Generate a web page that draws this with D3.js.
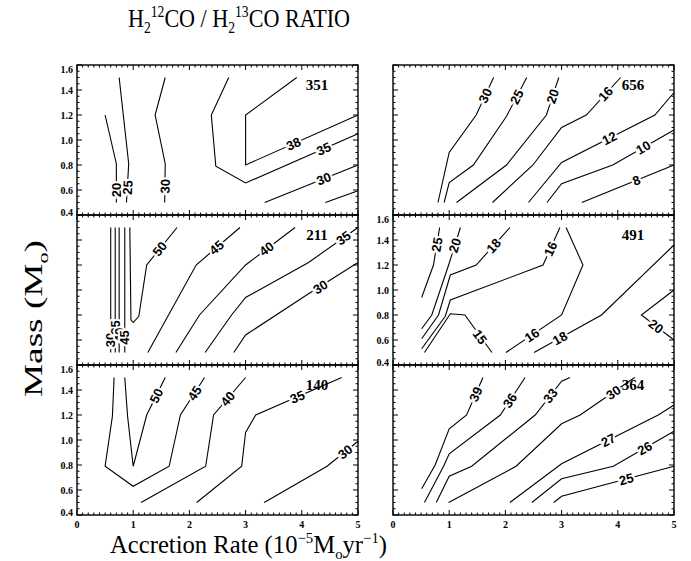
<!DOCTYPE html>
<html>
<head>
<meta charset="utf-8">
<script src="https://cdn.jsdelivr.net/npm/d3@7"></script>
<style>
  body { margin: 0; background: #fff; }
  svg { display: block; }
</style>
</head>
<body>
<div id="chart"></div>
<script>
// axis ticks
const xTicks = [0, 1, 2, 3, 4, 5];
const yTicks = [0.4, 0.6, 0.8, 1.0, 1.2, 1.4, 1.6];
const panelTags = ["351", "656", "211", "491", "140", "364"];

// contour lines: [accretion rate, mass]
const contours351 = [
  { level: "20", pts: [[0.5, 1.2], [0.70, 0.81], [0.70, 0.5]], at: [0.70, 0.60] },
  { level: "25", pts: [[0.75, 1.5], [0.92, 0.81], [0.88, 0.5]], at: [0.90, 0.62] },
  { level: "30", pts: [[1.57, 1.5], [1.39, 1.2], [1.57, 0.81], [1.56, 0.5]], at: [1.565, 0.63] },
  { level: "38", pts: [[3.91, 1.5], [3.0, 1.2], [3.0, 0.80], [5.0, 1.2]], at: [3.85, 0.97] },
  { level: "35", pts: [[2.70, 1.5], [2.39, 1.2], [2.47, 0.79], [3.0, 0.656], [5.0, 1.05]], at: [4.39, 0.93] },
  { level: "30", pts: [[3.34, 0.5], [5.0, 0.80]], at: [4.39, 0.69] },
  { level: "", pts: [[4.42, 0.5], [5.0, 0.594]] }
];

const contours656 = [
  { level: "30", pts: [[0.80, 0.5], [1.0, 0.90], [1.48, 1.2], [1.79, 1.5]], at: [1.64, 1.355] },
  { level: "25", pts: [[0.91, 0.5], [1.0, 0.66], [1.43, 0.80], [2.02, 1.19], [2.38, 1.5]], at: [2.2, 1.345] },
  { level: "20", pts: [[1.13, 0.5], [2.02, 0.80], [2.73, 1.2], [2.95, 1.5]], at: [2.84, 1.35] },
  { level: "16", pts: [[1.77, 0.5], [2.49, 0.80], [3.0, 1.10], [3.44, 1.2], [4.05, 1.5]], at: [3.78, 1.37] },
  { level: "12", pts: [[2.41, 0.5], [3.0, 0.82], [4.66, 1.2], [5.0, 1.38]], at: [3.85, 1.015] },
  { level: "10", pts: [[2.74, 0.5], [3.0, 0.65], [3.91, 0.80], [5.0, 1.08]], at: [4.45, 0.94] },
  { level: "8", pts: [[3.36, 0.5], [5.0, 0.80]], at: [4.33, 0.677] }
];

const contours211 = [
  { level: "30", pts: [[0.60, 1.5], [0.60, 0.5]], at: [0.60, 0.60] },
  { level: "35", pts: [[0.68, 1.5], [0.68, 0.5]], at: [0.68, 0.70] },
  { level: "40", pts: [[0.75, 1.5], [0.75, 0.5]], at: [0.75, 0.64] },
  { level: "45", pts: [[0.85, 1.5], [0.85, 0.5]], at: [0.85, 0.62] },
  { level: "50", pts: [[0.94, 1.5], [0.96, 0.76], [1.0, 0.74], [1.1, 0.79], [1.24, 1.2], [1.78, 1.5]], at: [1.47, 1.33] },
  { level: "45", pts: [[1.26, 0.5], [2.12, 1.2], [2.90, 1.5]], at: [2.48, 1.34] },
  { level: "40", pts: [[1.76, 0.5], [2.18, 0.80], [3.0, 1.2], [3.88, 1.5]], at: [3.37, 1.33] },
  { level: "35", pts: [[2.28, 0.5], [2.75, 0.80], [3.0, 0.94], [4.12, 1.22], [5.0, 1.5]], at: [4.74, 1.417] },
  { level: "30", pts: [[2.79, 0.5], [3.0, 0.64], [4.12, 0.97], [5.0, 1.22]], at: [4.33, 1.025] }
];

const contours491 = [
  { level: "25", pts: [[0.51, 0.94], [0.72, 1.2], [0.83, 1.5]], at: [0.78, 1.364] },
  { level: "20", pts: [[0.51, 0.69], [0.69, 0.80], [0.99, 1.2], [1.2, 1.5]], at: [1.1, 1.357] },
  { level: "18", pts: [[0.51, 0.61], [0.81, 0.80], [1.02, 1.12], [1.48, 1.2], [2.08, 1.5]], at: [1.79, 1.355] },
  { level: "16", pts: [[0.51, 0.53], [0.93, 0.79], [1.02, 0.92], [2.67, 1.2], [2.97, 1.5]], at: [2.8, 1.33] },
  { level: "15", pts: [[0.56, 0.5], [1.02, 0.81], [1.28, 0.80], [1.76, 0.5]], at: [1.55, 0.625] },
  { level: "16", pts: [[2.01, 0.5], [3.0, 0.80], [3.38, 1.2], [3.08, 1.5]], at: [2.47, 0.64] },
  { level: "18", pts: [[2.51, 0.5], [3.71, 0.80], [5.0, 1.36]], at: [2.97, 0.615] },
  { level: "20", pts: [[5.0, 1.0], [4.42, 0.80], [5.0, 0.60]], at: [4.68, 0.71] }
];

const contours140 = [
  { level: "45", pts: [[0.66, 1.5], [0.63, 1.19], [0.50, 0.79], [1.0, 0.63], [1.64, 0.79], [1.84, 1.2], [2.27, 1.5]], at: [2.09, 1.374] },
  { level: "50", pts: [[0.85, 1.5], [0.90, 1.19], [1.0, 0.79], [1.24, 1.2], [1.57, 1.5]], at: [1.41, 1.355] },
  { level: "40", pts: [[1.14, 0.5], [2.29, 0.79], [2.43, 1.2], [3.0, 1.5]], at: [2.68, 1.33] },
  { level: "35", pts: [[2.13, 0.5], [2.93, 0.79], [3.0, 1.06], [3.18, 1.2], [4.71, 1.5]], at: [3.92, 1.345] },
  { level: "30", pts: [[3.33, 0.5], [4.45, 0.79], [5.0, 0.99]], at: [4.77, 0.906] }
];

const contours364 = [
  { level: "39", pts: [[0.51, 0.61], [0.75, 0.80], [1.0, 1.09], [1.31, 1.2], [1.60, 1.5]], at: [1.47, 1.366] },
  { level: "36", pts: [[0.56, 0.5], [0.90, 0.79], [1.0, 0.89], [1.91, 1.2], [2.35, 1.5]], at: [2.08, 1.316] },
  { level: "33", pts: [[0.77, 0.5], [1.0, 0.71], [1.40, 0.79], [2.53, 1.2], [3.0, 1.47], [3.15, 1.5]], at: [2.8, 1.355] },
  { level: "30", pts: [[0.99, 0.5], [2.19, 0.79], [3.0, 1.13], [3.33, 1.2], [4.3, 1.5]], at: [3.92, 1.38] },
  { level: "27", pts: [[2.08, 0.5], [3.0, 0.81], [4.72, 1.2], [5.0, 1.28]], at: [3.83, 1.0] },
  { level: "26", pts: [[2.47, 0.5], [3.0, 0.69], [3.92, 0.79], [5.0, 1.07]], at: [4.48, 0.935] },
  { level: "25", pts: [[2.86, 0.5], [3.0, 0.55], [5.0, 0.79]], at: [4.15, 0.688] }
];

const allContours = [contours351, contours656, contours211, contours491, contours140, contours364];

const width = 691;
const height = 561;
const colLeft = [77, 393];
const colWidth = 281;
const rowTop = [65, 215, 365];
const rowHeight = 150;

const svg = d3.select("#chart")
  .append("svg")
  .attr("width", width)
  .attr("height", height);

const serif = "'Liberation Serif', 'DejaVu Serif', serif";
const labelFont = "'Liberation Sans', 'DejaVu Sans', sans-serif";

// find angle of the segment the label sits on
function labelAngle(pts, at, x, y) {
  let best = 0, bestD = Infinity;
  for (let i = 0; i < pts.length - 1; i++) {
    const [x1, y1] = pts[i], [x2, y2] = pts[i + 1];
    const dx = x2 - x1, dy = y2 - y1;
    let t = ((at[0] - x1) * dx + (at[1] - y1) * dy) / (dx * dx + dy * dy || 1);
    t = Math.max(0, Math.min(1, t));
    const d = Math.hypot(x1 + t * dx - at[0], (y1 + t * dy - at[1]) * 4);
    if (d < bestD) { bestD = d; best = i; }
  }
  const p1 = pts[best], p2 = pts[best + 1];
  let a = Math.atan2(y(p2[1]) - y(p1[1]), x(p2[0]) - x(p1[0])) * 180 / Math.PI;
  if (a > 90) a -= 180;
  if (a <= -90) a += 180;
  if (Math.abs(Math.abs(a) - 90) < 0.5) a = -90;
  return a;
}

allContours.forEach((contours, i) => {
  const col = i % 2, row = Math.floor(i / 2);
  const x0 = colLeft[col], y0 = rowTop[row];
  const x = d3.scaleLinear().domain([0, 5]).range([x0, x0 + colWidth]);
  const y = d3.scaleLinear().domain([0.4, 1.6]).range([y0 + rowHeight, y0]);
  const g = svg.append("g");

  const line = d3.line().x(d => x(d[0])).y(d => y(d[1]));

  g.selectAll("path.contour")
    .data(contours)
    .enter().append("path")
    .attr("class", "contour")
    .attr("d", d => line(d.pts))
    .attr("fill", "none")
    .attr("stroke", "#000")
    .attr("stroke-width", 1.1);

  g.selectAll("text.clabel")
    .data(contours.filter(d => d.at))
    .enter().append("text")
    .attr("class", "clabel")
    .attr("transform", d => `translate(${x(d.at[0])},${y(d.at[1])}) rotate(${labelAngle(d.pts, d.at, x, y)})`)
    .attr("text-anchor", "middle")
    .attr("dy", "0.36em")
    .attr("font-family", labelFont)
    .attr("font-weight", "bold")
    .attr("font-size", 13)
    .attr("fill", "#000")
    .attr("stroke", "#fff")
    .attr("stroke-width", 4)
    .attr("paint-order", "stroke")
    .text(d => d.level);

  // panel tag
  g.append("text")
    .attr("x", x(4.27))
    .attr("y", y(1.44))
    .attr("dy", "0.35em")
    .attr("text-anchor", "middle")
    .attr("font-family", serif)
    .attr("font-weight", "bold")
    .attr("font-size", 15)
    .text(panelTags[i]);

  // frame
  g.append("rect")
    .attr("x", x0).attr("y", y0)
    .attr("width", colWidth).attr("height", rowHeight)
    .attr("fill", "none")
    .attr("stroke", "#000")
    .attr("stroke-width", 1.4);

  // ticks, inward on all sides
  const xMinor = d3.range(0, 50.5, 1).map(v => v / 10);
  const yMinor = d3.range(8, 32.5, 1).map(v => v / 20);
  const tickPath = [];
  xMinor.forEach(v => {
    const len = Math.abs(v - Math.round(v)) < 1e-6 ? 5 : 2.5;
    const px = x(v);
    tickPath.push(`M${px},${y0 + rowHeight}v${-len}`, `M${px},${y0}v${len}`);
  });
  yMinor.forEach(v => {
    const len = Math.abs(v * 5 - Math.round(v * 5)) < 1e-6 ? 5 : 2.5;
    const py = y(v);
    tickPath.push(`M${x0},${py}h${len}`, `M${x0 + colWidth},${py}h${-len}`);
  });
  g.append("path")
    .attr("d", tickPath.join(""))
    .attr("stroke", "#000")
    .attr("stroke-width", 1)
    .attr("fill", "none");

  // y tick labels on outer-left panels and middle right
  if (col === 0 && row !== 1 || (col === 1 && row === 1)) {
    g.selectAll("text.ytl")
      .data(yTicks)
      .enter().append("text")
      .attr("class", "ytl")
      .attr("x", x0 - 4)
      .attr("y", d => y(d) + (d === 1.6 ? 4 : d === 0.4 ? -3 : 0))
      .attr("dy", "0.35em")
      .attr("text-anchor", "end")
      .attr("font-family", serif)
      .attr("font-weight", "bold")
      .attr("font-size", 10)
      .text(d => d3.format(".1f")(d));
  }

  // x tick labels on the bottom row
  if (row === 2) {
    g.selectAll("text.xtl")
      .data(xTicks)
      .enter().append("text")
      .attr("class", "xtl")
      .attr("x", d => x(d))
      .attr("y", y0 + rowHeight + 13)
      .attr("text-anchor", "middle")
      .attr("font-family", serif)
      .attr("font-weight", "bold")
      .attr("font-size", 10)
      .text(d => d);
  }
});

// title
const title = svg.append("text")
  .attr("x", 128)
  .attr("y", 27)
  .attr("font-family", serif)
  .attr("font-size", 26)
  .attr("textLength", 222)
  .attr("lengthAdjust", "spacingAndGlyphs");
title.append("tspan").text("H");
title.append("tspan").attr("font-size", 16).attr("dy", 6).text("2");
title.append("tspan").attr("font-size", 16).attr("dy", -16).text("12");
title.append("tspan").attr("dy", 10).text("CO / H");
title.append("tspan").attr("font-size", 16).attr("dy", 6).text("2");
title.append("tspan").attr("font-size", 16).attr("dy", -16).text("13");
title.append("tspan").attr("dy", 10).text("CO RATIO");

// x-axis title
const xt = svg.append("text")
  .attr("x", 110)
  .attr("y", 553)
  .attr("font-family", serif)
  .attr("font-size", 25)
  .attr("textLength", 277)
  .attr("lengthAdjust", "spacingAndGlyphs");
xt.append("tspan").text("Accretion Rate (10");
xt.append("tspan").attr("font-size", 15).attr("dy", -10).text("\u22125");
xt.append("tspan").attr("dy", 10).text("M");
xt.append("tspan").attr("font-size", 15).attr("dy", 6).text("o");
xt.append("tspan").attr("dy", -6).text("yr");
xt.append("tspan").attr("font-size", 15).attr("dy", -10).text("\u22121");
xt.append("tspan").attr("dy", 10).text(")");

// y-axis title
const yt = svg.append("text")
  .attr("transform", "translate(42,397) rotate(-90)")
  .attr("font-family", serif)
  .attr("font-size", 25)
  .attr("textLength", 157)
  .attr("lengthAdjust", "spacingAndGlyphs");
yt.append("tspan").text("Mass (M");
yt.append("tspan").attr("font-size", 15).attr("dy", 6).text("o");
yt.append("tspan").attr("dy", -6).text(")");
</script>
</body>
</html>
